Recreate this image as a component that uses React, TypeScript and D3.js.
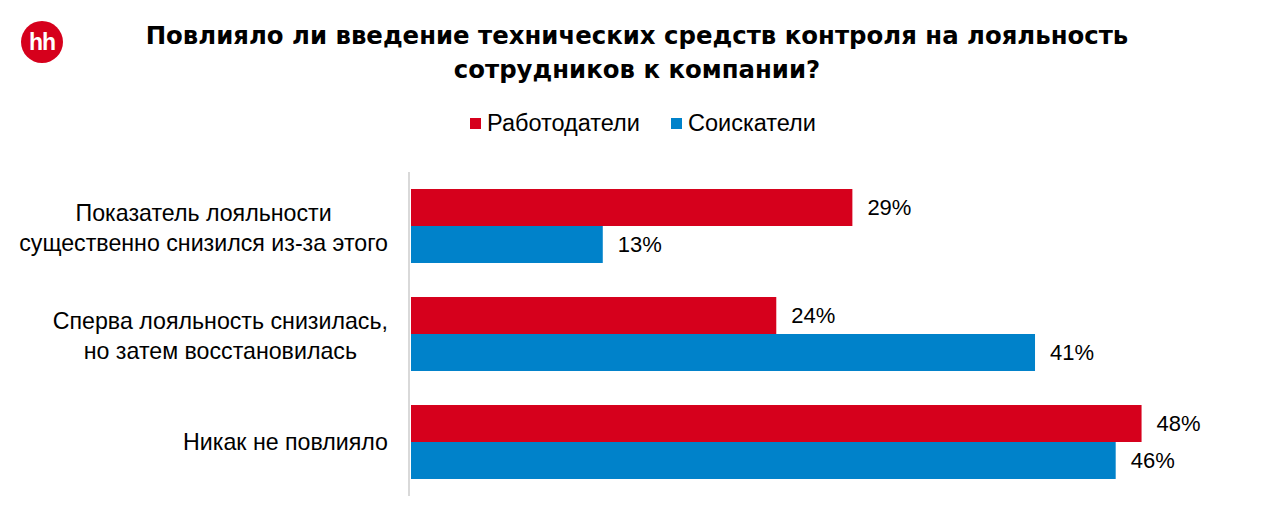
import React from "react";
import * as d3 from "d3";

const categories = [
  ["Показатель лояльности", "существенно снизился из-за этого"],
  ["Сперва лояльность снизилась,", "но затем восстановилась"],
  ["Никак не повлияло"],
];
const seriesNames = ["Работодатели", "Соискатели"];
const employers = [29, 24, 48];
const seekers = [12.6, 41, 46.3];
const seriesValues = [employers, seekers];
const colors = ["#D6001C", "#0082CA"];
const titleLines = [
  "Повлияло ли введение технических средств контроля на лояльность",
  "сотрудников к компании?",
];

const W = 1274;
const H = 520;

export default function App() {
  const x = d3.scaleLinear().domain([0, 50]).range([410, 1171]);
  const y = d3
    .scaleBand<number>()
    .domain(categories.map((_, i) => i))
    .range([172, 496])
    .paddingInner(0.315)
    .paddingOuter(0.1575);
  const inner = d3
    .scaleBand<number>()
    .domain(seriesNames.map((_, i) => i))
    .range([0, y.bandwidth()]);

  const labelFont = "Liberation Sans, Arial, sans-serif";

  const canvas = typeof document !== "undefined" ? document.createElement("canvas") : null;
  const ctx = canvas ? canvas.getContext("2d") : null;
  const measure = (t: string, size: number) => {
    if (!ctx) return t.length * size * 0.5;
    ctx.font = `${size}px "Liberation Sans", Arial, sans-serif`;
    return ctx.measureText(t).width;
  };
  const catSize = 23.2;
  const labelRight = 388;
  const lineH = 30;

  return (
    <svg
      width={W}
      height={H}
      style={{ position: "absolute", left: 0, top: 0, display: "block", background: "#fff" }}
    >
      {/* logo */}
      <circle cx={42} cy={42} r={21} fill="#D6001C" />
      <text
        x={42}
        y={42}
        dy="0.35em"
        textAnchor="middle"
        fill="#fff"
        fontFamily={labelFont}
        fontWeight="bold"
        fontSize={23}
        letterSpacing={-1}
      >
        hh
      </text>

      {/* title */}
      {titleLines.map((t, i) => (
        <text
          key={i}
          x={637}
          y={44 + i * 34}
          textAnchor="middle"
          fontFamily="DejaVu Sans, sans-serif"
          fontWeight="bold"
          fontSize={24.4}
          fill="#000"
        >
          {t}
        </text>
      ))}

      {/* legend */}
      {seriesNames.map((s, i) => {
        const lx = i === 0 ? 470 : 671;
        return (
          <g key={s}>
            <rect x={lx} y={118} width={11} height={11} fill={colors[i]} />
            <text x={lx + 17} y={131} fontFamily={labelFont} fontSize={23.5} fill="#000">
              {s}
            </text>
          </g>
        );
      })}

      {/* axis line */}
      <line x1={409} x2={409} y1={172} y2={496} stroke="#D9D9D9" strokeWidth={2} />

      {/* bars */}
      {categories.map((_, ci) => (
        <g key={ci} transform={`translate(0,${y(ci)})`}>
          {seriesValues.map((vals, si) => {
            const v = vals[ci];
            const by = inner(si)!;
            const bh = inner.bandwidth();
            return (
              <g key={si}>
                <rect x={x(0) + 1} y={by} width={x(v) - x(0)} height={bh} fill={colors[si]} />
                <text
                  x={x(v) + 16}
                  y={by + bh / 2}
                  dy="0.36em"
                  fontFamily={labelFont}
                  fontSize={22}
                  fill="#000"
                >
                  {Math.round(v)}%
                </text>
              </g>
            );
          })}
        </g>
      ))}

      {/* category labels */}
      {categories.map((lines, ci) => {
        const maxW = Math.max(...lines.map((l) => measure(l, catSize)));
        const cx = labelRight - maxW / 2;
        const cy = y(ci)! + y.bandwidth() / 2;
        const start = cy - ((lines.length - 1) * lineH) / 2 + (lines.length > 1 ? 1.5 : 0);
        return (
          <text
            key={ci}
            textAnchor="middle"
            fontFamily={labelFont}
            fontSize={catSize}
            fill="#000"
          >
            {lines.map((l, li) => (
              <tspan key={li} x={cx} y={start + li * lineH} dy="0.35em">
                {l}
              </tspan>
            ))}
          </text>
        );
      })}
    </svg>
  );
}
